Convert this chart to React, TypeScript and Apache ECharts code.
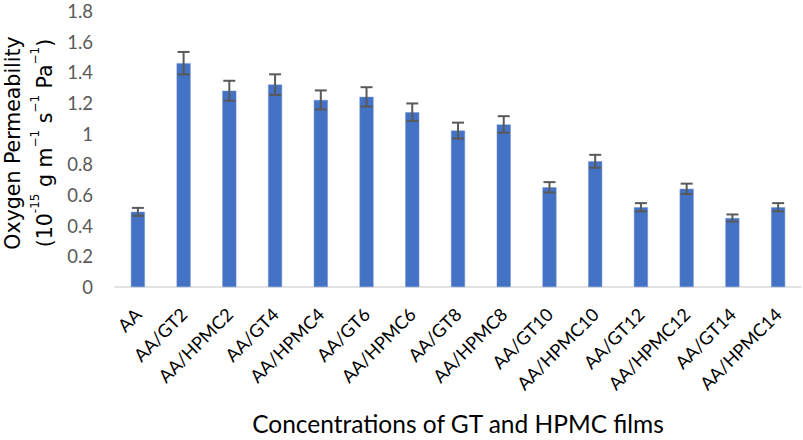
import React, { useEffect, useRef } from "react";
import * as echarts from "echarts";

const categories = [
  "AA", "AA/GT2", "AA/HPMC2", "AA/GT4", "AA/HPMC4", "AA/GT6", "AA/HPMC6",
  "AA/GT8", "AA/HPMC8", "AA/GT10", "AA/HPMC10", "AA/GT12", "AA/HPMC12",
  "AA/GT14", "AA/HPMC14",
];
const permeability = [0.49, 1.46, 1.28, 1.32, 1.22, 1.24, 1.14, 1.02, 1.06, 0.65, 0.82, 0.52, 0.64, 0.45, 0.52];
const errors = [0.026, 0.073, 0.065, 0.067, 0.062, 0.063, 0.057, 0.052, 0.054, 0.034, 0.042, 0.027, 0.034, 0.023, 0.027];
const yTicks = { min: 0, max: 1.8, interval: 0.2 };

const FONT = "Lato";
const TITLE_FONT = "DejaVu Sans";

export default function App() {
  const ref = useRef<HTMLDivElement>(null);
  useEffect(() => {
    document.body.style.margin = "0";
    const chart = echarts.init(ref.current!, null, { renderer: "svg" });
    const errData = permeability.map((v, i) => [i, v - errors[i], v + errors[i]]);
    chart.setOption({
      animation: false,
      textStyle: { fontFamily: FONT },
      grid: { left: 115, right: 2, top: 11, bottom: 153, containLabel: false, outerBoundsMode: "none" },
      xAxis: {
        type: "category",
        data: categories,
        axisLine: { show: true, lineStyle: { color: "#D9D9D9", width: 1.5 } },
        axisTick: { show: false },
        axisLabel: { rotate: 45, interval: 0, color: "#000", fontSize: 18, margin: 24, fontFamily: FONT },
        name: "Concentrations of GT and HPMC films",
        nameLocation: "middle",
        nameGap: 124,
        nameTextStyle: { color: "#000", fontSize: 24.5, fontFamily: FONT },
      },
      yAxis: {
        type: "value",
        min: yTicks.min,
        max: yTicks.max,
        interval: yTicks.interval,
        splitLine: { show: false },
        axisLine: { show: false },
        axisTick: { show: false },
        axisLabel: { color: "#595959", fontSize: 18.5, margin: 22, fontFamily: FONT },
        name: "{a|Oxygen Permeability}\n{a|(10}{s|-15}{a| g m}{s|−1}{a| s}{s|−1}{a| Pa}{s|−1}{a|)}",
        nameLocation: "middle",
        nameRotate: 90,
        nameGap: 54,
        nameTextStyle: {
          color: "#000",
          fontFamily: TITLE_FONT,
          padding: [0, 0, 0, 12],
          rich: {
            a: { fontSize: 20.5, lineHeight: 32, color: "#000", fontFamily: TITLE_FONT },
            s: { fontSize: 12, lineHeight: 10, color: "#000", fontFamily: TITLE_FONT, verticalAlign: "top" },
          },
        },
      },
      series: [
        {
          type: "bar",
          data: permeability,
          barWidth: 14,
          itemStyle: { color: "#4472C4", borderColor: "#6F93D3", borderWidth: 0.5 },
        },
        {
          type: "custom",
          data: errData,
          z: 10,
          renderItem: (params: any, api: any) => {
            const x = api.value(0);
            const lo = api.coord([x, api.value(1)]);
            const hi = api.coord([x, api.value(2)]);
            const hw = 6;
            const style = { stroke: "#595959", lineWidth: 2 };
            return {
              type: "group",
              children: [
                { type: "line", shape: { x1: lo[0], y1: lo[1], x2: hi[0], y2: hi[1] }, style },
                { type: "line", shape: { x1: hi[0] - hw, y1: hi[1], x2: hi[0] + hw, y2: hi[1] }, style },
                { type: "line", shape: { x1: lo[0] - hw, y1: lo[1], x2: lo[0] + hw, y2: lo[1] }, style },
              ],
            };
          },
        },
      ],
    });
    return () => chart.dispose();
  }, []);
  return <div ref={ref} style={{ width: 803, height: 440 }} />;
}
